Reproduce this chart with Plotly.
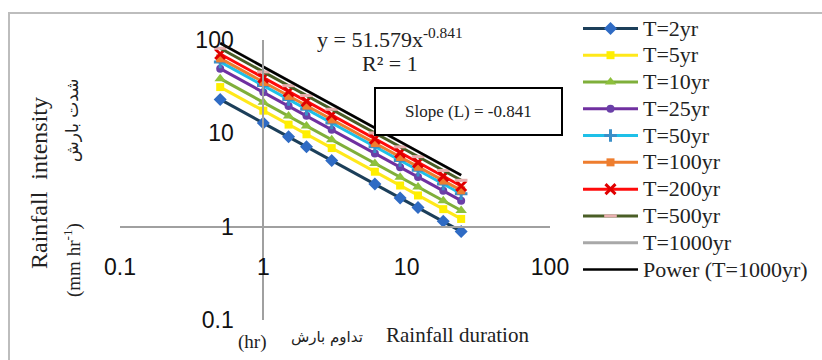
import plotly.graph_objects as go

# Rainfall duration (hr)
durations = [0.5, 1, 1.5, 2, 3, 6, 9, 12, 18, 24]

# Rainfall intensity (mm/hr) per return period
t2 = [23.1, 12.9, 9.17, 7.20, 5.12, 2.86, 2.03, 1.60, 1.14, 0.89]
t5 = [31.3, 17.5, 12.4, 9.77, 6.95, 3.88, 2.76, 2.16, 1.54, 1.21]
t10 = [38.5, 21.5, 15.3, 12.0, 8.54, 4.76, 3.39, 2.66, 1.89, 1.49]
t25 = [49.3, 27.5, 19.6, 15.4, 10.9, 6.09, 4.33, 3.40, 2.42, 1.90]
t50 = [58.2, 32.5, 23.1, 18.1, 12.9, 7.20, 5.12, 4.02, 2.86, 2.25]
t100 = [63.6, 35.5, 25.2, 19.8, 14.1, 7.87, 5.59, 4.39, 3.12, 2.45]
t200 = [70.8, 39.5, 28.1, 22.1, 15.7, 8.75, 6.22, 4.89, 3.48, 2.73]
t500 = [81.5, 45.5, 32.4, 25.4, 18.1, 10.1, 7.17, 5.63, 4.00, 3.14]
t1000 = [92.4, 51.6, 36.7, 28.8, 20.5, 11.4, 8.13, 6.38, 4.54, 3.56]
power_fit = [92.4, 51.6, 36.7, 28.8, 20.5, 11.4, 8.13, 6.38, 4.54, 3.56]

tick_vals = [0.1, 1, 10, 100]
tick_text = ["0.1", "1", "10", "100"]

series = [
    ("T=2yr", t2, "#1C3F5A", "diamond", "#2F6BC4", 10),
    ("T=5yr", t5, "#FFE81A", "square", "#FFEF00", 8),
    ("T=10yr", t10, "#7FAF3A", "triangle-up", "#8DC03C", 10),
    ("T=25yr", t25, "#7030A0", "circle", "#6A3FA8", 8),
    ("T=50yr", t50, "#1EC0E8", "cross-thin", "#3A8FC8", 9),
    ("T=100yr", t100, "#EE7D2E", "square", "#EE7D2E", 8),
    ("T=200yr", t200, "#FF0A0A", "x-thin", "#E00000", 10),
    ("T=500yr", t500, "#4A5E26", "line-ew", "#E8AFAF", 9),
    ("T=1000yr", t1000, "#A8A8A8", None, None, 0),
]


def lg(name):
    return '<span style="font-size:22px">' + name + '</span>'


fig = go.Figure()
for name, vals, lc, sym, mc, ms in series:
    if sym is None:
        fig.add_trace(go.Scatter(x=durations, y=vals, name=lg(name), mode="lines",
                                 line=dict(color=lc, width=3)))
    else:
        thin = sym in ("cross-thin", "x-thin", "line-ew")
        fig.add_trace(go.Scatter(
            x=durations, y=vals, name=lg(name), mode="lines+markers",
            line=dict(color=lc, width=3),
            marker=dict(symbol=sym, size=ms, color=mc,
                        line=dict(color=mc, width=3 if thin else 0))))
fig.add_trace(go.Scatter(x=durations, y=power_fit, name=lg("Power (T=1000yr)"),
                         mode="lines", line=dict(color="#000000", width=2.5)))

L, R, T, B = 120, 272, 40, 40
W, H = 822, 360
pw, ph = W - L - R, H - T - B


def px(p):
    return (p - L) / pw


def py(p):
    return (H - B - p) / ph


serif = "Liberation Serif, Times New Roman, serif"
ann = [
    dict(x=px(390), y=py(38), text="y = 51.579x<sup>-0.841</sup>", font=dict(size=22, family=serif, color="#222")),
    dict(x=px(390), y=py(63), text="R² = 1", font=dict(size=22, family=serif, color="#222")),
    dict(x=px(468), y=py(111), text="Slope (L) = -0.841", font=dict(size=17, family=serif, color="#222")),
    dict(x=px(39), y=py(183), text="Rainfall  intensity", textangle=-90, font=dict(size=24, family=serif, color="#222")),
    dict(x=px(72), y=py(260), text="(mm hr<sup>-1</sup>)", textangle=-90, font=dict(size=19, family=serif, color="#222")),
    dict(x=px(72), y=py(121), text="شدت بارش", textangle=-90, font=dict(size=17, family="DejaVu Serif, DejaVu Sans, serif", color="#222")),
    dict(x=px(252), y=py(342), text="(hr)", font=dict(size=19, family=serif, color="#222")),
    dict(x=px(327), y=py(337), text="تداوم بارش", font=dict(size=15, family="DejaVu Serif, DejaVu Sans, serif", color="#222")),
    dict(x=px(457), y=py(335), text="Rainfall duration", font=dict(size=21, family=serif, color="#222")),
]
for a in ann:
    a.update(xref="paper", yref="paper", showarrow=False, xanchor="center", yanchor="middle")

shapes = [
    dict(type="rect", xref="paper", yref="paper", x0=px(375), x1=px(562), y0=py(135), y1=py(88),
         line=dict(color="#000", width=2), fillcolor="#fff", layer="above"),
    dict(type="rect", xref="paper", yref="paper", x0=px(9), x1=px(840), y0=py(380), y1=py(13),
         line=dict(color="#BDBDBD", width=2), fillcolor="rgba(0,0,0,0)", layer="below"),
]

tickfont = dict(size=23, family="Liberation Sans, Arial, sans-serif", color="#111")
fig.update_layout(
    width=W, height=H,
    margin=dict(l=L, r=R, t=T, b=B, autoexpand=False),
    paper_bgcolor="white", plot_bgcolor="white",
    xaxis=dict(type="log", range=[-1, 2], tickvals=tick_vals, ticktext=tick_text,
               showgrid=False, zeroline=False, showline=True, linecolor="#A0A0A0", linewidth=2,
               anchor="free", position=1/3, ticks="", ticklabelstandoff=20, tickfont=tickfont,
               automargin=False),
    yaxis=dict(type="log", range=[-1, 2], tickvals=tick_vals, ticktext=tick_text,
               showgrid=False, zeroline=False, showline=True, linecolor="#A0A0A0", linewidth=2,
               anchor="free", position=1/3, ticks="", ticklabelstandoff=24, tickfont=tickfont,
               automargin=False),
    legend=dict(x=578 / W, y=1 - 10 / H, xref="container", yref="container",
                xanchor="left", yanchor="top", maxheight=1, itemwidth=55,
                font=dict(size=18.3, family=serif, color="#222"), bgcolor="rgba(0,0,0,0)",
                tracegroupgap=0),
    annotations=ann,
    shapes=shapes,
    showlegend=True,
)

fig.write_html("out.html")
